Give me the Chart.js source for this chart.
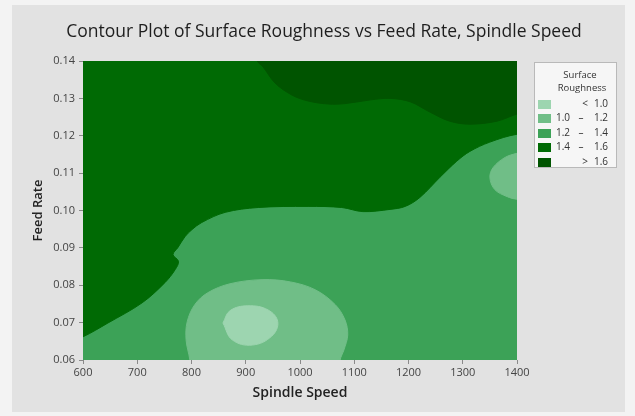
<!DOCTYPE html>
<html>
<head>
<meta charset="utf-8">
<title>Contour Plot of Surface Roughness</title>
<script src="https://cdn.jsdelivr.net/npm/chart.js@4.4.1/dist/chart.umd.min.js"></script>
<style>
  html, body { margin: 0; padding: 0; background: #f3f3f3; }
  #frame { position: absolute; left: 12px; top: 5px; width: 613px; height: 407px; background: #e2e2e2; }
  canvas { display: block; }
</style>
</head>
<body>
<div id="frame"><canvas id="contour" width="613" height="407"></canvas></div>
<script>
// Axis ticks
const speedTicks = [600, 700, 800, 900, 1000, 1100, 1200, 1300, 1400];
const feedTicks = [0.06, 0.07, 0.08, 0.09, 0.10, 0.11, 0.12, 0.13, 0.14];

// Roughness bands (legend order) and their fills
const bandLabels = ['< 1.0', '1.0 \u2013 1.2', '1.2 \u2013 1.4', '1.4 \u2013 1.6', '> 1.6'];
const bandColors = ['#9dd5b0', '#70be87', '#3ca257', '#006a04', '#005400'];

// Contour boundaries: spindle speed / feed rate pairs per band.
// Points past the axis limits close each region outside the plotted field.
const band12Speed = [560, 1440, 1440, 560, 560];
const band12Feed  = [0.055, 0.055, 0.145, 0.145, 0.055];

const band14Speed = [1440, 1400, 1350, 1313, 1289, 1258, 1221, 1194, 1166, 1116, 1077, 1015, 923, 862, 819, 801, 788, 775, 766, 776, 770, 751, 709, 646, 600, 560, 560, 1440, 1440];
const band14Feed  = [0.1205, 0.1204, 0.1183, 0.1158, 0.1132, 0.1089, 0.1035, 0.1011, 0.1003, 0.0997, 0.1008, 0.1011, 0.1008, 0.0995, 0.0968, 0.0949, 0.0930, 0.0901, 0.0882, 0.0864, 0.0842, 0.0807, 0.0753, 0.0699, 0.0662, 0.0640, 0.1450, 0.1450, 0.1205];

const band16Speed = [905, 921, 932, 954, 985, 1015, 1052, 1083, 1130, 1166, 1203, 1240, 1276, 1313, 1363, 1400, 1440, 1440, 905];
const band16Feed  = [0.1460, 0.1400, 0.1384, 0.1341, 0.1309, 0.1293, 0.1285, 0.1286, 0.1296, 0.1300, 0.1291, 0.1263, 0.1239, 0.1231, 0.1239, 0.1258, 0.1270, 0.1460, 0.1460];

const band10Speed = [800, 797, 790, 792, 806, 830, 871, 930, 982, 1028, 1065, 1083, 1088, 1081, 1074, 1072, 800];
const band10Feed  = [0.0550, 0.0600, 0.0654, 0.0702, 0.0748, 0.0780, 0.0804, 0.0815, 0.0809, 0.0788, 0.0748, 0.0707, 0.0667, 0.0627, 0.0600, 0.0550, 0.0550];

const band10bSpeed = [1440, 1400, 1378, 1356, 1350, 1359, 1382, 1400, 1440, 1440];
const band10bFeed  = [0.1165, 0.1153, 0.1142, 0.1115, 0.1088, 0.1056, 0.1037, 0.1030, 0.1025, 0.1165];

const band08Speed = [858, 871, 904, 941, 959, 948, 912, 875, 858];
const band08Feed  = [0.0699, 0.0732, 0.0745, 0.0734, 0.0702, 0.0664, 0.0640, 0.0654, 0.0699];

const FONT = "'Open Sans', 'Noto Sans', sans-serif";

function region(speeds, feeds, color, order, tension) {
  return {
    data: speeds.map((x, i) => ({ x: x, y: feeds[i] })),
    backgroundColor: color,
    borderColor: color,
    borderWidth: 1,
    fill: 'shape',
    tension: tension,
    order: order,
    pointRadius: 0,
    pointHoverRadius: 0
  };
}

// Boxed legend at the right of the plot
const roughnessLegend = {
  id: 'roughnessLegend',
  afterDraw(chart) {
    const ctx = chart.ctx;
    const left = 522, top = 57, w = 83, h = 106;
    ctx.save();
    ctx.fillStyle = '#f6f6f6';
    ctx.fillRect(left, top, w, h);
    ctx.strokeStyle = '#b9b9b9';
    ctx.lineWidth = 1;
    ctx.strokeRect(left + 0.5, top + 0.5, w - 1, h - 1);
    ctx.fillStyle = '#333';
    ctx.font = '9.5px ' + FONT;
    ctx.textAlign = 'center';
    ctx.textBaseline = 'middle';
    ctx.fillText('Surface', 568, 70);
    ctx.fillText('Roughness', 570, 83);
    ctx.font = '10px ' + FONT;
    const rowY = [99, 113, 128, 142, 157];
    bandLabels.forEach((label, i) => {
      ctx.fillStyle = bandColors[i];
      ctx.fillRect(526, rowY[i] - 4, 13, 9);
      ctx.fillStyle = '#333';
      const parts = label.split(' ');
      if (parts.length === 3) {
        ctx.textAlign = 'left';
        ctx.fillText(parts[0], 544, rowY[i]);
        ctx.textAlign = 'center';
        ctx.fillText(parts[1], 569, rowY[i]);
        ctx.textAlign = 'right';
        ctx.fillText(parts[2], 596, rowY[i]);
      } else {
        ctx.textAlign = 'center';
        ctx.fillText(parts[0], 573, rowY[i]);
        ctx.textAlign = 'right';
        ctx.fillText(parts[1], 596, rowY[i]);
      }
    });
    ctx.restore();
  }
};

new Chart(document.getElementById('contour'), {
  type: 'line',
  data: {
    datasets: [
      region(band12Speed, band12Feed, bandColors[2], 6, 0),
      region(band14Speed, band14Feed, bandColors[3], 5, 0.35),
      region(band16Speed, band16Feed, bandColors[4], 4, 0.35),
      region(band10Speed, band10Feed, bandColors[1], 3, 0.35),
      region(band10bSpeed, band10bFeed, bandColors[1], 2, 0.35),
      region(band08Speed, band08Feed, bandColors[0], 1, 0.4)
    ]
  },
  options: {
    responsive: false,
    animation: false,
    events: [],
    layout: { padding: { left: 11, right: 0, top: 0, bottom: 0 } },
    elements: { line: { capBezierPoints: false } },
    plugins: {
      legend: { display: false },
      tooltip: { enabled: false },
      title: {
        display: true,
        text: 'Contour Plot of Surface Roughness vs Feed Rate, Spindle Speed',
        color: '#1e1e1e',
        font: { family: FONT, size: 17.5, weight: 'normal' },
        padding: { top: 17, bottom: 18 }
      }
    },
    scales: {
      x: {
        type: 'linear',
        min: 600,
        max: 1400,
        afterFit(scale) { scale.height = 52; },
        afterBuildTicks(scale) { scale.ticks = speedTicks.map(v => ({ value: v })); },
        ticks: { color: '#444', font: { family: FONT, size: 11 }, padding: 2, maxRotation: 0, autoSkip: false, callback: v => String(v) },
        grid: { drawOnChartArea: false, tickLength: 4, color: '#8a8a8a' },
        border: { display: false },
        title: {
          display: true,
          text: 'Spindle Speed',
          color: '#222',
          font: { family: FONT, size: 14, weight: '600' },
          padding: { top: 0, bottom: 10.6 }
        }
      },
      y: {
        type: 'linear',
        min: 0.06,
        max: 0.14,
        afterFit(scale) { scale.width = 60; },
        afterBuildTicks(scale) { scale.ticks = feedTicks.map(v => ({ value: v })); },
        ticks: { color: '#444', font: { family: FONT, size: 11 }, padding: 4, callback: v => v.toFixed(2) },
        grid: { drawOnChartArea: false, tickLength: 4, color: '#8a8a8a' },
        border: { display: false },
        title: {
          display: true,
          text: 'Feed Rate',
          color: '#222',
          font: { family: FONT, size: 13, weight: '600' },
          padding: { top: 7.2, bottom: 0 }
        }
      },
      side: {
        type: 'linear',
        position: 'right',
        min: 0,
        max: 1,
        afterFit(scale) { scale.width = 108; },
        ticks: { display: false },
        grid: { display: false },
        border: { display: false }
      }
    }
  },
  plugins: [roughnessLegend]
});
</script>
</body>
</html>
